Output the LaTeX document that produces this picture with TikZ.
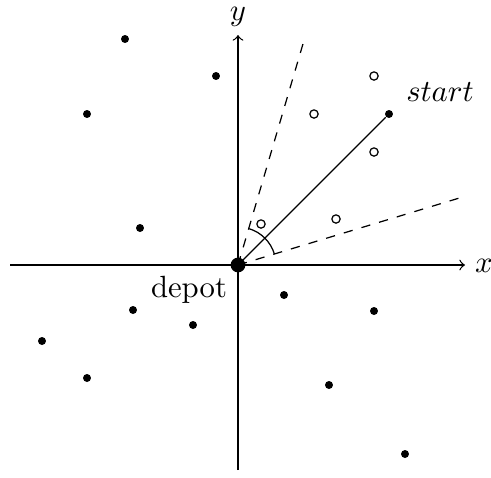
\documentclass[tikz,border=0pt]{standalone}
\begin{document}
\begin{tikzpicture}[x=0.3257pt,y=-0.3257pt,
  dot/.style={circle,fill=black,inner sep=0pt,minimum size=2.6pt},
  odot/.style={circle,draw=black,fill=white,inner sep=0pt,minimum size=2.7pt,line width=0.4pt},
  depotdot/.style={circle,fill=black,inner sep=0pt,minimum size=4.8pt},
  axis/.style={->,line width=0.4pt},
  ray/.style={dashed,line width=0.4pt}]
\useasboundingbox (0,0) rectangle (491,477);
% axes
\coordinate (xl) at (10,265);
\coordinate (xr) at (465,265);
\coordinate (yb) at (238,470);
\coordinate (yt) at (238,35);
\draw[axis] (xl) -- (xr);
\draw[axis] (yb) -- (yt);
\node (xlab) at (484,266) {$x$};
\node (ylab) at (238,17) {$y$};
% rays
\coordinate (o) at (238,265);
\coordinate (up) at (305,37);
\coordinate (lo) at (466,196);
\draw[ray] (o) -- (up);
\draw[ray] (o) -- (lo);
\node[dot] (start) at (389,114) {};
\draw[line width=0.4pt] (o) -- (start);
\draw[line width=0.4pt] (o) ++(-17:38) arc (-17:-73:38);
\node (startlab) at (440,92) {$start$};
% depot
\node[depotdot] (depot) at (o) {};
\node (depotlab) at (189,290) {depot};
% customers
\node[dot] (c1) at (125,39) {};
\node[dot] (c2) at (216,76) {};
\node[dot] (c3) at (87,114) {};
\node[dot] (c4) at (140,228) {};
\node[dot] (c5) at (284,295) {};
\node[dot] (c6) at (374,311) {};
\node[dot] (c7) at (133,310) {};
\node[dot] (c8) at (193,325) {};
\node[dot] (c9) at (42,341) {};
\node[dot] (c10) at (87,378) {};
\node[dot] (c11) at (329,385) {};
\node[dot] (c12) at (405,454) {};
% open
\node[odot] (s1) at (374,76) {};
\node[odot] (s2) at (314,114) {};
\node[odot] (s3) at (374,152) {};
\node[odot] (s4) at (261,224) {};
\node[odot] (s5) at (336,219) {};
\end{tikzpicture}
\end{document}
